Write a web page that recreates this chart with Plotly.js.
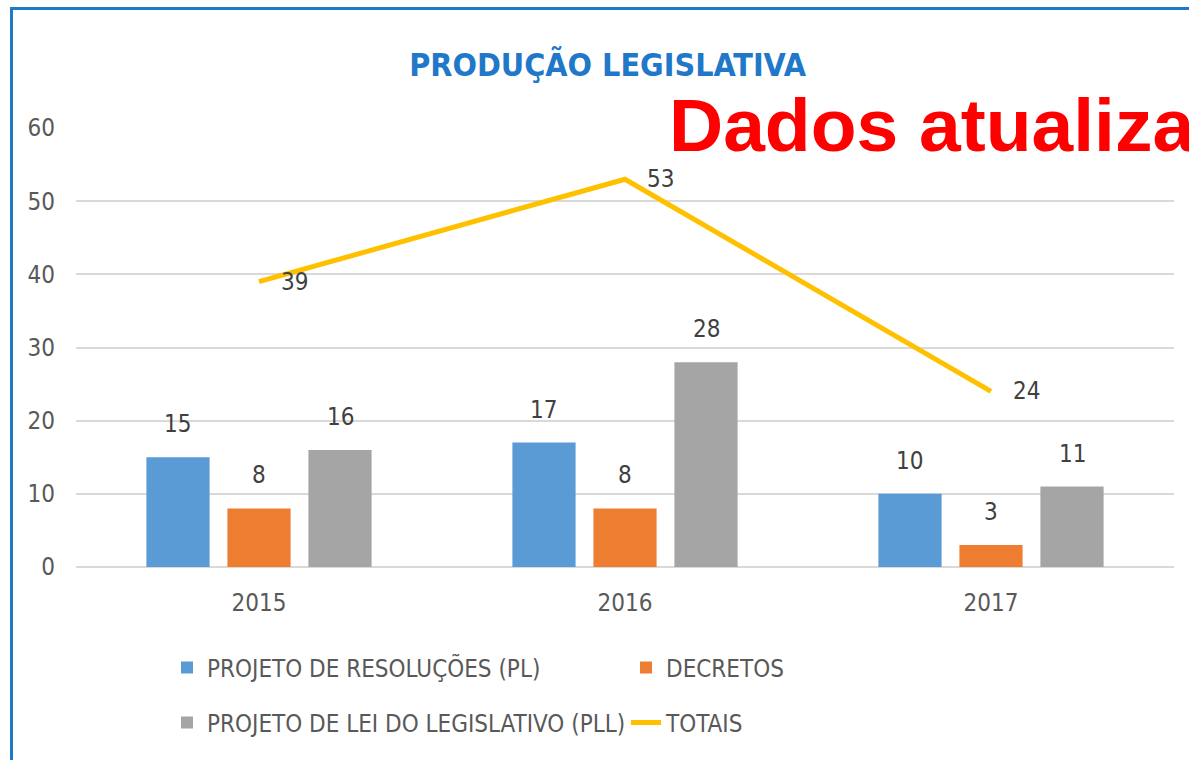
<!DOCTYPE html>
<html>
<head>
<meta charset="utf-8">
<script src="https://cdn.plot.ly/plotly-3.0.1.min.js"></script>
<style>
  html, body { margin: 0; padding: 0; background: #fff; }
  #wrap { position: relative; width: 1189px; height: 760px; overflow: hidden; }
  #chart { width: 1189px; height: 760px; }
  #frame { position: absolute; left: 10px; top: 7px; width: 1200px; height: 800px;
           border-left: 3px solid #1F78C8; border-top: 3px solid #1F78C8; pointer-events: none; }
</style>
</head>
<body>
<div id="wrap">
  <div id="chart"></div>
  <div id="frame"></div>
</div>
<script>
// ---- data ----
const years = ["2015", "2016", "2017"];
const resolucoes = [15, 17, 10];
const decretos = [8, 8, 3];
const leis = [16, 28, 11];
const totais = [39, 53, 24];
const seriesNames = ["PROJETO DE RESOLUÇÕES (PL)", "DECRETOS", "PROJETO DE LEI DO LEGISLATIVO (PLL)", "TOTAIS"];
const yTicks = [0, 10, 20, 30, 40, 50, 60];

// ---- style ----
const FONT = "'DejaVu Sans Condensed', 'Liberation Sans Narrow', 'Roboto', sans-serif";
const colors = ["#5B9BD5", "#ED7D31", "#A5A5A5", "#FFC000"];
const W = 1189, H = 760;
const margin = {l: 76, r: 15, t: 128, b: 193};
const plotW = W - margin.l - margin.r;
const plotH = H - margin.t - margin.b;
const catW = plotW / years.length;
const bargap = 0.336, bargroupgap = 0.22;
const slot = catW * (1 - bargap) / 3;

const barSeries = [resolucoes, decretos, leis];
const traces = barSeries.map((vals, i) => ({
  type: 'bar', x: years, y: vals, name: seriesNames[i],
  marker: {color: colors[i]}, legend: i < 2 ? 'legend' : 'legend2',
  hoverinfo: 'x+y+name'
}));
traces.push({
  type: 'scatter', mode: 'lines', x: years, y: totais, name: seriesNames[3],
  line: {color: colors[3], width: 5}, legend: 'legend2'
});

const annotations = [];
barSeries.forEach((vals, i) => {
  vals.forEach((v, j) => {
    annotations.push({
      x: j, y: v, xref: 'x', yref: 'y', text: String(v), showarrow: false,
      xshift: (i - 1) * slot, yshift: 33, yanchor: 'middle',
      font: {family: FONT, size: 24, color: '#404040'}
    });
  });
});
totais.forEach((v, j) => {
  annotations.push({
    x: j, y: v, xref: 'x', yref: 'y', text: String(v), showarrow: false,
    xanchor: 'left', yanchor: 'middle', xshift: 20,
    font: {family: FONT, size: 24, color: '#404040'}
  });
});
annotations.push({
  xref: 'paper', yref: 'paper', x: (667 - margin.l) / plotW, y: (H - margin.b - 125) / plotH,
  xanchor: 'left', yanchor: 'middle', text: 'Dados atualizados', showarrow: false,
  font: {family: "'Liberation Sans', Arial, sans-serif", size: 75, color: '#FF0000', weight: 'bold'}
});

const legendFont = {family: FONT, size: 24, color: '#595959'};
const layout = {
  width: W, height: H, margin: margin,
  paper_bgcolor: '#fff', plot_bgcolor: '#fff',
  font: {family: FONT, size: 24, color: '#595959'},
  title: {text: 'PRODUÇÃO LEGISLATIVA', x: 0.511, xanchor: 'center', y: 1 - 65 / H, yanchor: 'middle',
          yref: 'container', font: {family: FONT, size: 32, color: '#1F78C8', weight: 'bold'}},
  barmode: 'group', bargap: bargap, bargroupgap: bargroupgap,
  xaxis: {type: 'category', range: [-0.5, 2.5], showgrid: false, showline: false, zeroline: false, ticks: '',
          ticklabelstandoff: 19, tickfont: {family: FONT, size: 24, color: '#595959'}},
  yaxis: {range: [0, 60], tickvals: yTicks, showgrid: true, gridcolor: '#D9D9D9', gridwidth: 1.5,
          zeroline: true, zerolinecolor: '#D9D9D9', zerolinewidth: 2, showline: false, ticks: '',
          ticklabelstandoff: 20, tickfont: {family: FONT, size: 24, color: '#595959'}},
  showlegend: true,
  legend: {orientation: 'h', x: (167 - margin.l) / plotW, xanchor: 'left', y: -(668 - (H - margin.b)) / plotH,
           yanchor: 'middle', entrywidth: 414, font: legendFont,
           bgcolor: 'rgba(0,0,0,0)', traceorder: 'normal'},
  legend2: {orientation: 'h', x: (167 - margin.l) / plotW, xanchor: 'left', y: -(723 - (H - margin.b)) / plotH,
           yanchor: 'middle', entrywidth: 414, font: legendFont,
           bgcolor: 'rgba(0,0,0,0)', traceorder: 'normal'},
  annotations: annotations
};

Plotly.newPlot('chart', traces, layout, {displayModeBar: false, responsive: false});
</script>
</body>
</html>
